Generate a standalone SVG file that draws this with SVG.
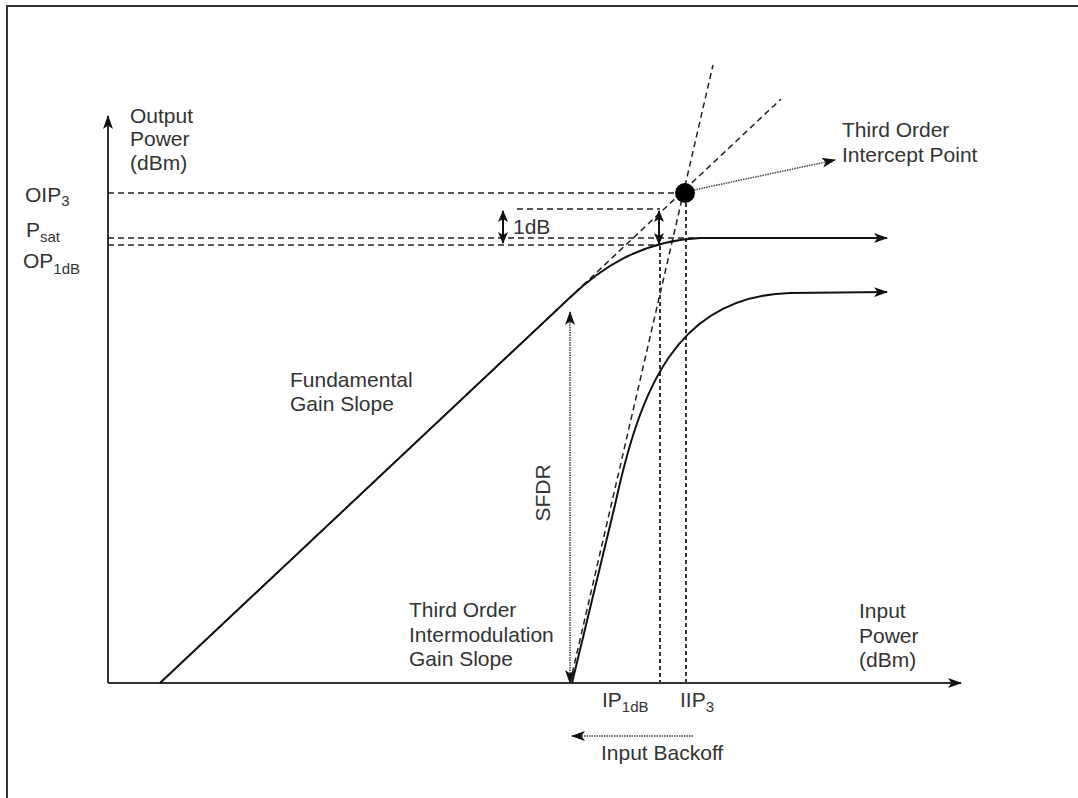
<svg xmlns="http://www.w3.org/2000/svg" width="1078" height="798" viewBox="0 0 1078 798">
  <style>
    .lbl { font-family: "Liberation Sans", Arial, sans-serif; font-size: 21px; fill: #333; }
    .sub { font-size: 15px; }
    .axis { stroke: #333; stroke-width: 2; fill: none; }
    .curve { stroke: #111; stroke-width: 2; fill: none; }
    .dash { stroke: #222; stroke-width: 1.5; fill: none; stroke-dasharray: 6 4; }
    .vdash { stroke: #333; stroke-width: 2; fill: none; stroke-dasharray: 4 3; }
    .dot { stroke: #444; stroke-width: 1.5; fill: none; stroke-dasharray: 1.5 1; }
  </style>
  <defs>
    <marker id="arrow" viewBox="0 0 14 10" refX="13" refY="5" markerWidth="14" markerHeight="10" markerUnits="userSpaceOnUse" orient="auto-start-reverse">
      <path d="M0,0 L14,5 L0,10 L3.5,5 z" fill="#111"/>
    </marker>
    <marker id="arrowSm" viewBox="0 0 12 10" refX="11" refY="5" markerWidth="12" markerHeight="10" markerUnits="userSpaceOnUse" orient="auto-start-reverse">
      <path d="M0,0 L12,5 L0,10 L3,5 z" fill="#111"/>
    </marker>
  </defs>

  <rect width="1078" height="798" fill="#fff"/>
  <!-- frame -->
  <path d="M7,798 L7,6 L1078,6" stroke="#333" stroke-width="2" fill="none"/>

  <g id="connectors">
    <!-- axes -->
    <path class="axis" d="M108,683 L108,116" marker-end="url(#arrow)"/>
    <path class="axis" d="M108,683 L961,683" marker-end="url(#arrow)"/>

    <!-- extrapolated slopes -->
    <path class="dash" d="M160,683 L781,99"/>
    <path class="dash" d="M570,683 L713,65"/>

    <!-- level references -->
    <path class="dash" d="M108,193 L678,193"/>
    <path class="dash" d="M517,209 L660,209"/>
    <path class="dash" d="M108,238 L700,238"/>
    <path class="dash" d="M108,245 L660,245"/>

    <!-- input reference verticals -->
    <path class="vdash" d="M660,246 L660,683"/>
    <path class="vdash" d="M686,203 L686,683"/>

    <!-- fundamental response -->
    <path class="curve" d="M160,683 L570,297.5 C600,269 640,241 700,238 L887,238" marker-end="url(#arrow)"/>

    <!-- third order response -->
    <path class="curve" d="M572,683 L615,505 C640,390 676,296 790,293 L887,292" marker-end="url(#arrow)"/>

    <!-- 1 dB markers -->
    <path class="curve" stroke-width="1.5" d="M503,211 L503,243" marker-start="url(#arrowSm)" marker-end="url(#arrowSm)"/>
    <path class="curve" stroke-width="1.5" d="M659,211 L659,244" marker-start="url(#arrowSm)" marker-end="url(#arrowSm)"/>

    <!-- SFDR span -->
    <path class="dot" d="M570,312 L570,683" marker-start="url(#arrow)" marker-end="url(#arrow)"/>

    <!-- intercept pointer -->
    <path class="dot" d="M694,190 L835,160" marker-end="url(#arrow)"/>

    <!-- input backoff -->
    <path class="dot" d="M693,736 L572,736" marker-end="url(#arrow)"/>
  </g>

  <g id="intercept-point">
    <circle cx="685" cy="193" r="10" fill="#000"/>
  </g>

  <g id="y-axis-label">
    <text class="lbl" x="130" y="123">Output</text>
    <text class="lbl" x="130" y="146">Power</text>
    <text class="lbl" x="130" y="170">(dBm)</text>
  </g>
  <g id="oip3-label">
    <text class="lbl" x="25" y="202">OIP<tspan class="sub" dy="4">3</tspan></text>
  </g>
  <g id="psat-label">
    <text class="lbl" x="26" y="237">P<tspan class="sub" dy="5">sat</tspan></text>
  </g>
  <g id="op1db-label">
    <text class="lbl" x="23" y="268">OP<tspan class="sub" dy="6">1dB</tspan></text>
  </g>
  <g id="one-db-label">
    <text class="lbl" x="513" y="234" font-size="20">1dB</text>
  </g>
  <g id="intercept-label">
    <text class="lbl" x="842" y="137">Third Order</text>
    <text class="lbl" x="842" y="162">Intercept Point</text>
  </g>
  <g id="fundamental-label">
    <text class="lbl" x="290" y="387">Fundamental</text>
    <text class="lbl" x="290" y="411">Gain Slope</text>
  </g>
  <g id="third-order-label">
    <text class="lbl" x="409" y="617">Third Order</text>
    <text class="lbl" x="409" y="642">Intermodulation</text>
    <text class="lbl" x="409" y="666">Gain Slope</text>
  </g>
  <g id="sfdr-label">
    <text class="lbl" transform="translate(550,493) rotate(-90)" text-anchor="middle">SFDR</text>
  </g>
  <g id="x-axis-label">
    <text class="lbl" x="859" y="618">Input</text>
    <text class="lbl" x="859" y="643">Power</text>
    <text class="lbl" x="859" y="667">(dBm)</text>
  </g>
  <g id="ip1db-label">
    <text class="lbl" x="602" y="707">IP<tspan class="sub" dy="5">1dB</tspan></text>
  </g>
  <g id="iip3-label">
    <text class="lbl" x="680" y="707">IIP<tspan class="sub" dy="5">3</tspan></text>
  </g>
  <g id="backoff-label">
    <text class="lbl" x="601" y="760">Input Backoff</text>
  </g>
</svg>
